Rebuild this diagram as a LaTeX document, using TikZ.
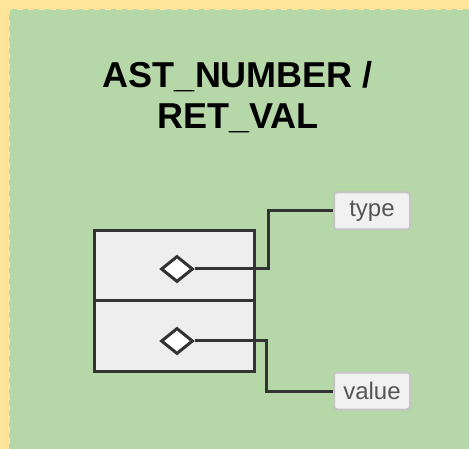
\documentclass[tikz,border=0pt]{standalone}
\usepackage{fontspec}
\setmainfont{Liberation Sans}
\usetikzlibrary{shapes.geometric}
\definecolor{bgyellow}{HTML}{FFE599}
\definecolor{bggreen}{HTML}{B6D7A8}
\definecolor{cellfill}{HTML}{EEEEEE}
\definecolor{wiregray}{HTML}{333333}
\definecolor{tagfill}{HTML}{F1F1F1}
\definecolor{tagline}{HTML}{C4C4C4}
\definecolor{tagtext}{HTML}{555555}
\tikzset{
cell/.style={draw=wiregray, line width=3pt, fill=cellfill, minimum width=160pt, minimum height=70pt, inner sep=0pt},
port/.style={diamond, draw=wiregray, fill=white, line width=3pt, minimum width=32pt, minimum height=26pt, inner sep=0pt},
tag/.style={rounded corners=3pt, draw=tagline, line width=2pt, fill=tagfill, text=tagtext, font=\fontsize{24}{26}\selectfont, minimum width=76pt, minimum height=37pt, inner sep=0pt},
wire/.style={draw=wiregray, line width=3pt},
}

\begin{document}
\begin{tikzpicture}[x=1pt, y=-1pt]
\useasboundingbox (0,0) rectangle (469,449);
\clip (0,0) rectangle (469,449);
% background
\fill[bgyellow] (0,0) rectangle (469,449);
\draw[fill=bggreen, draw=bgyellow, line width=2pt, dash pattern=on 6pt off 5pt] (9,9) rectangle (490,470);
%
\node[font=\fontsize{36}{41}\selectfont\bfseries, align=center] (title) at (238,97) {AST\_NUMBER /\\RET\_VAL};
%
\node[cell] (topcell) at (174,266) {};
\node[cell] (botcell) at (174,336) {};
\node[port] (dtype) at (177,269) {};
\node[port] (dvalue) at (177,341) {};
%
\node[tag] (type) at (372,211) {type};
\node[tag] (value) at (372,391) {value};
%
\draw[wire] (dtype.east) -- ++(74,0) |- (type.west);
\draw[wire] (dvalue.east) -- ++(72,0) |- (value.west);
\end{tikzpicture}
\end{document}
